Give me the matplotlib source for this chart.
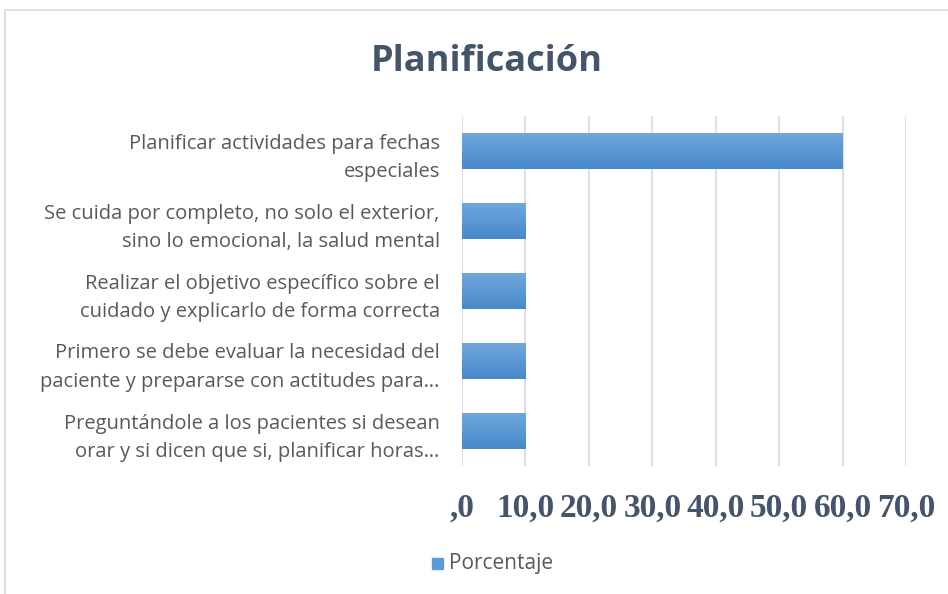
import numpy as np
import matplotlib.pyplot as plt
from matplotlib.patches import Rectangle

categories = [
    "Planificar actividades para fechas\nespeciales",
    "Se cuida por completo, no solo el exterior,\nsino lo emocional, la salud mental",
    "Realizar el objetivo específico sobre el\ncuidado y explicarlo de forma correcta",
    "Primero se debe evaluar la necesidad del\npaciente y prepararse con actitudes para…",
    "Preguntándole a los pacientes si desean\norar y si dicen que si, planificar horas…",
]
values = [60, 10, 10, 10, 10]
ticks = [0, 10, 20, 30, 40, 50, 60, 70]
tick_labels = [",0", "10,0", "20,0", "30,0", "40,0", "50,0", "60,0", "70,0"]

dark = "#44546A"
bar_top = np.array([0x70, 0xA7, 0xDD]) / 255
bar_bot = np.array([0x47, 0x89, 0xC9]) / 255

fig = plt.figure(figsize=(9.48, 5.94), dpi=100)
fig.patches.append(Rectangle((5 / 948, -0.1), 1.2, 1 - 10 / 594 + 0.1,
                             transform=fig.transFigure, fill=False,
                             edgecolor="#D9D9D9", linewidth=1.2))

ax = fig.add_axes([462 / 948, 1 - 466 / 594, 444 / 948, 350 / 594])
y = np.arange(len(categories))
h = 0.51
bars = ax.barh(y, values, height=h, color="none", zorder=3)

# vertical gradient in each bar
grad = np.linspace(0, 1, 64)[:, None, None]
img = bar_top[None, None, :] * (1 - grad) + bar_bot[None, None, :] * grad
for b in bars:
    x0, y0 = b.get_x(), b.get_y()
    im = ax.imshow(img, extent=(x0, x0 + b.get_width(), y0 + b.get_height(), y0),
                   aspect="auto", zorder=3, interpolation="bilinear")
    im.set_clip_path(b)

ax.set_xlim(0, 70)
ax.set_ylim(len(categories) - 0.5, -0.5)
ax.set_xticks(ticks)
ax.set_xticklabels(tick_labels, fontfamily="Liberation Serif", fontweight="bold",
                   fontsize=24, color=dark)
ax.set_yticks(y)
ax.set_yticklabels(categories, fontfamily="Open Sans", fontsize=14.5,
                   color="#595959", linespacing=1.55)
ax.tick_params(axis="x", length=0, pad=19)
ax.tick_params(axis="y", length=0, pad=16)
ax.grid(axis="x", color="#DCE0E8", linewidth=1.5, zorder=0)
for s in ax.spines.values():
    s.set_visible(False)
ax.set_axisbelow(True)

fig.text(487 / 948, 1 - 62 / 594, "Planificación", ha="center", va="center",
         fontfamily="Open Sans", fontweight="bold", fontsize=26, color=dark)

fig.patches.append(Rectangle((432 / 948, 1 - 569 / 594), 11 / 948, 11 / 594,
                             transform=fig.transFigure, color="#5B9BD5"))
fig.text(449 / 948, 1 - 564 / 594, "Porcentaje", ha="left", va="center",
         fontfamily="Open Sans", fontsize=15, color="#595959")

fig.savefig("out.png", dpi=100)
